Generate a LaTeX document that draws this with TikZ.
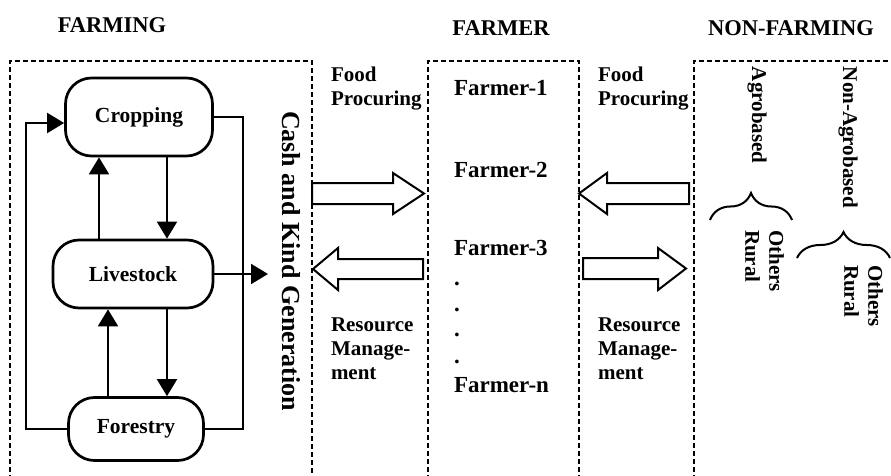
\documentclass[tikz,border=0pt]{standalone}
\usepackage{fontspec}
\setmainfont{Liberation Serif}
\usetikzlibrary{arrows.meta}
\usetikzlibrary{decorations.pathreplacing}
\usetikzlibrary{positioning}

\begin{document}
\begin{tikzpicture}[x=1pt,y=-1pt,line width=2pt,>={Triangle[length=17pt,width=20pt]},
        unit/.style={draw,line width=2.7pt,rounded corners=26pt,font=\fontsize{21.5}{24}\selectfont\bfseries},
        lbl/.style={inner sep=0pt,align=left,font=\fontsize{21}{24}\selectfont\bfseries},
        title/.style={inner sep=0pt,font=\fontsize{22.5}{26}\selectfont\bfseries},
        farmer/.style={inner sep=0pt,anchor=base west,font=\fontsize{23}{26}\selectfont\bfseries},
        region/.style={line width=2pt,dash pattern=on 5pt off 3pt},
        blockarrow/.style={line width=2pt,line join=miter},
        brace/.style={decorate,decoration={brace,amplitude=#1}}]
    \useasboundingbox (0,0) rectangle (891,476);
    % headings
    \node[title] (tfarming) at (112,25) {FARMING};
    \node[title] (tfarmer) at (501,28) {FARMER};
    \node[title] (tnonfarming) at (791,28) {NON-FARMING};
    % the three regions
    \draw[region] (10,480) -- (10,61) -- (312,61) -- (312,480);
    \draw[region] (428,480) -- (428,61) -- (579,61) -- (579,480);
    \draw[region] (694,480) -- (694,61) -- (895,61);
    % farming activities
    \node[unit,minimum width=147pt,minimum height=78pt] (crop) at (139,117) {Cropping};
    \node[unit,minimum width=160pt,minimum height=68pt] (live) at (133,274) {Livestock};
    \node[unit,minimum width=135pt,minimum height=63pt] (forest) at (136,429) {Forestry};
    \coordinate (dn) at (167,0);
    \coordinate (upa) at (99,0);
    \coordinate (upb) at (108,0);
    \coordinate (rx) at (243,0);
    \coordinate (out) at (268,0);
    \draw[->] (crop.south -| dn) -- (live.north -| dn);
    \draw[->] (live.north -| upa) -- (crop.south -| upa);
    \draw[->] (live.south -| dn) -- (forest.north -| dn);
    \draw[->] (forest.north -| upb) -- (live.south -| upb);
    \draw[->] (forest.west) -- ++(-41,0) |- ([yshift=-6pt]crop.west);
    \draw (crop.east) -- (crop.east -| rx) -- (forest.east -| rx) -- (forest.east);
    \draw[->] (live.east) -- (live.east -| out);
    \node[lbl,rotate=-90,font=\fontsize{26}{30}\selectfont\bfseries] (cash) at (291,261) {Cash and Kind Generation};
    % flows between farming and farmer
    \node[lbl,anchor=north west] (food1) at (330,66) {Food\\Procuring};
    \node[lbl,anchor=north west] (res1) at (330,317) {Resource\\Manage-\\ment};
    \draw[blockarrow] (312,183) -- (393,183) -- (393,173) -- (424,193.5) -- (393,214) -- (393,204) -- (312,204) -- cycle;
    \draw[blockarrow] (423,259) -- (338,259) -- (338,248) -- (313,269) -- (338,290) -- (338,279) -- (423,279) -- cycle;
    % farmers
    \node[farmer] (f1) at (453,96) {Farmer-1};
    \node[farmer] (f2) at (453,177) {Farmer-2};
    \node[farmer] (f3) at (453,255) {Farmer-3};
    \foreach \i/\y in {1/285,2/311,3/336,4/363}
        \node[farmer] (dot\i) at (453,\y) {.};
    \node[farmer] (fn) at (453,392) {Farmer-n};
    % flows between farmer and non-farming
    \node[lbl,anchor=north west] (food2) at (597,66) {Food\\Procuring};
    \node[lbl,anchor=north west] (res2) at (597,317) {Resource\\Manage-\\ment};
    \draw[blockarrow] (689,183) -- (607,183) -- (607,173) -- (579,193.5) -- (607,214) -- (607,204) -- (689,204) -- cycle;
    \draw[blockarrow] (583,258) -- (658,258) -- (658,248) -- (686,268.5) -- (658,290) -- (658,279) -- (583,279) -- cycle;
    % non-farming
    \node[lbl,rotate=-90,anchor=west] (agro) at (757,66) {Agrobased};
    \node[lbl,rotate=-90,anchor=west] (nonagro) at (848,66) {Non-Agrobased};
    \draw[brace=27pt] (710,220) -- (792,220);
    \draw[brace=26pt] (797,258) -- (890,258);
    \node[lbl,rotate=-90,anchor=north west] (agrokind) at (785,229) {Others\\Rural};
    \node[lbl,rotate=-90,anchor=north west] (nonagrokind) at (884,264) {Others\\Rural};
\end{tikzpicture}
\end{document}
